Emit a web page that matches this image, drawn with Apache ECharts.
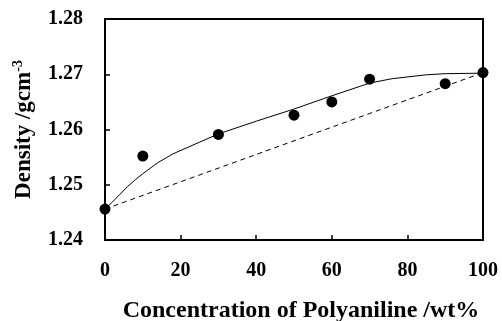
<!DOCTYPE html>
<html><head><meta charset="utf-8">
<script src="https://cdn.jsdelivr.net/npm/echarts@6/dist/echarts.min.js"></script>
<style>html,body{margin:0;padding:0;background:#fff}#c{width:502px;height:321px}</style>
</head><body><div id="c"></div>
<script>
const xTicks = [0, 20, 40, 60, 80, 100];
const yTicks = [1.24, 1.25, 1.26, 1.27, 1.28];
const measuredX = [0, 10, 30, 50, 60, 70, 90, 100];
const measuredY = [1.2456, 1.2552, 1.2591, 1.2626, 1.2650, 1.2691, 1.2683, 1.2703];
const fitX = [0, 2, 4, 6, 8, 10, 14, 18, 25, 30, 40, 50, 60, 70, 76, 85, 90, 100];
const fitY = [1.2456, 1.2469, 1.2483, 1.2497, 1.2509, 1.2520, 1.2540, 1.2556, 1.2577, 1.2592, 1.2615, 1.2637, 1.2661, 1.2684, 1.2692, 1.2699, 1.2701, 1.2702];
const additiveX = [0, 100];
const additiveY = [1.2456, 1.2703];

const font = 'Liberation Serif';
const chart = echarts.init(document.getElementById('c'), null, {renderer: 'canvas'});
chart.setOption({
  animation: false,
  backgroundColor: '#fff',
  grid: {left: 105, right: 19, top: 19, bottom: 81, show: true, borderColor: '#000', borderWidth: 2,
    containLabel: false, outerBoundsMode: 'none'},
  xAxis: {
    type: 'value', min: 0, max: 100, interval: 20,
    name: 'Concentration of Polyaniline /wt%', nameLocation: 'middle', nameGap: 59,
    nameTextStyle: {fontFamily: font, fontWeight: 'bold', fontSize: 24, color: '#000', padding: [0, 0, 0, 14]},
    axisLine: {show: true, onZero: false, lineStyle: {color: '#000', width: 2}},
    axisTick: {show: true, inside: true, length: 5, lineStyle: {color: '#000', width: 1.5}},
    axisLabel: {margin: 21, fontFamily: font, fontWeight: 'bold', fontSize: 20, color: '#000',
      formatter: v => xTicks.includes(v) ? String(v) : ''},
    splitLine: {show: false}
  },
  yAxis: {
    type: 'value', min: 1.24, max: 1.28, interval: 0.01,
    name: '{a|Density /gcm}{s|-3}', nameLocation: 'middle', nameGap: 68, nameRotate: 90,
    nameTextStyle: {rich: {
      a: {fontFamily: font, fontWeight: 'bold', fontSize: 23, color: '#000'},
      s: {fontFamily: font, fontWeight: 'bold', fontSize: 14, color: '#000', verticalAlign: 'top', padding: [0, 0, 12, 0]}
    }},
    axisLine: {show: true, onZero: false, lineStyle: {color: '#000', width: 2}},
    axisTick: {show: true, inside: true, length: 5, lineStyle: {color: '#000', width: 1.5}},
    axisLabel: {margin: 22, fontFamily: font, fontWeight: 'bold', fontSize: 20, color: '#000',
      formatter: v => { const t = yTicks.find(k => Math.abs(k - v) < 1e-6); return t !== undefined ? t.toFixed(2) : ''; }},
    splitLine: {show: false}
  },
  series: [
    {type: 'line', data: additiveX.map((x, i) => [x, additiveY[i]]), symbol: 'none',
      lineStyle: {color: '#000', width: 1, type: [5, 4]}, z: 2},
    {type: 'line', data: fitX.map((x, i) => [x, fitY[i]]), symbol: 'none', smooth: false,
      lineStyle: {color: '#000', width: 1}, z: 3},
    {type: 'scatter', data: measuredX.map((x, i) => [x, measuredY[i]]), symbol: 'circle', symbolSize: 11,
      itemStyle: {color: '#000', opacity: 1}, z: 4}
  ]
});
</script></body></html>
